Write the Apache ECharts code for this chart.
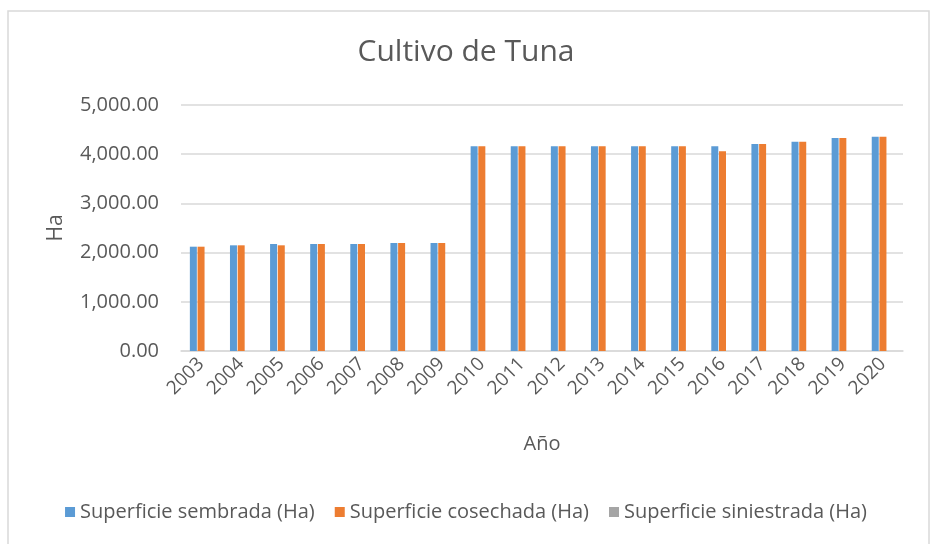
<!DOCTYPE html>
<html>
<head>
<meta charset="utf-8">
<script src="https://cdn.jsdelivr.net/npm/echarts@6/dist/echarts.min.js"></script>
<style>html,body{margin:0;padding:0;background:#fff;}#c{width:932px;height:544px;}</style>
</head>
<body>
<div id="c"></div>
<script>
const categories = ['2003','2004','2005','2006','2007','2008','2009','2010','2011','2012','2013','2014','2015','2016','2017','2018','2019','2020'];
const sembrada = [2120,2148,2175,2175,2175,2195,2195,4160,4160,4160,4160,4160,4160,4160,4207,4254,4329,4356];
const cosechada = [2120,2148,2148,2175,2175,2195,2195,4160,4160,4160,4160,4160,4160,4058,4207,4254,4329,4356];
const siniestrada = [0,0,0,0,0,0,0,0,0,0,0,0,0,0,0,0,0,0];
const seriesNames = ['Superficie sembrada (Ha)','Superficie cosechada (Ha)','Superficie siniestrada (Ha)'];
const colors = ['#5b9bd5','#ed7d31','#a5a5a5'];

const font = 'Open Sans';
const chart = echarts.init(document.getElementById('c'));
function fmt(v){ return v.toLocaleString('en-US',{minimumFractionDigits:2,maximumFractionDigits:2}); }
chart.setOption({
  animation:false,
  color: colors,
  graphic:[{type:'rect',shape:{x:8,y:11,width:921,height:560},style:{fill:'none',stroke:'#d9d9d9',lineWidth:1.5},silent:true}],
  title:{text:'Cultivo de Tuna',left:'center',top:32,textStyle:{fontFamily:font,fontSize:30,fontWeight:'normal',color:'#595959'}},
  legend:{bottom:17,left:'center',itemWidth:10,itemHeight:10,itemGap:20,icon:'rect',
    textStyle:{fontFamily:font,fontSize:20,color:'#595959'},data:seriesNames},
  grid:{left:181,right:29,top:105,bottom:193},
  xAxis:{type:'category',data:categories,name:'Año',nameLocation:'middle',nameGap:83,
    nameTextStyle:{fontFamily:font,fontSize:20,color:'#595959'},
    axisLine:{lineStyle:{color:'#d9d9d9',width:1.5}},axisTick:{show:false},
    axisLabel:{rotate:45,fontFamily:font,fontSize:19,color:'#595959',margin:10,interval:0}},
  yAxis:{type:'value',min:0,max:5000,interval:1000,name:'Ha',nameLocation:'middle',nameGap:114,
    nameTextStyle:{fontFamily:font,fontSize:21,color:'#595959'},
    axisLine:{show:false},axisTick:{show:false},
    splitLine:{lineStyle:{color:'#d9d9d9',width:1.5}},
    axisLabel:{fontFamily:font,fontSize:20,color:'#595959',margin:22,formatter:fmt}},
  series:[
    {name:seriesNames[0],type:'bar',data:sembrada,barWidth:7,barGap:'10%'},
    {name:seriesNames[1],type:'bar',data:cosechada,barWidth:7,barGap:'10%'},
    {name:seriesNames[2],type:'bar',data:siniestrada,barWidth:7,barGap:'10%'}
  ]
});
</script>
</body>
</html>
